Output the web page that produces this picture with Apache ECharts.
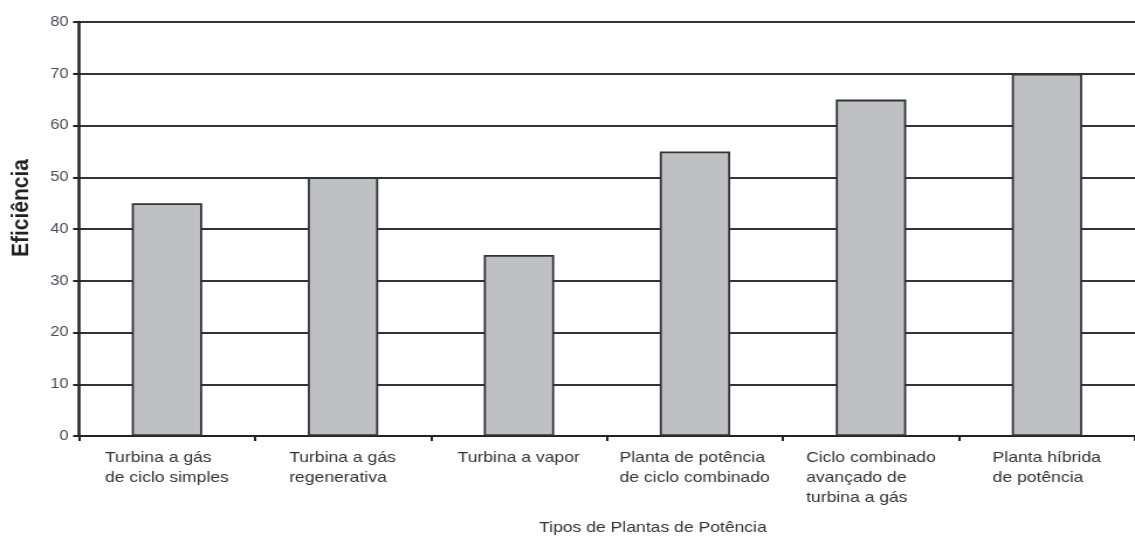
<!DOCTYPE html>
<html>
<head>
<meta charset="utf-8">
<script src="https://cdn.jsdelivr.net/npm/echarts@6/dist/echarts.min.js"></script>
<style>
  html, body { margin: 0; padding: 0; background: #fff; overflow: hidden; }
  /* The chart is drawn narrower and widened horizontally, giving the wide lettering */
  #chart { width: 970px; height: 540px; transform: scaleX(1.1701); transform-origin: 0 0; }
</style>
</head>
<body>
<div id="chart"></div>
<script>
// Plant types and their efficiency (%)
const categories = [
  'Turbina a gás\nde ciclo simples',
  'Turbina a gás\nregenerativa',
  'Turbina a vapor',
  'Planta de potência\nde ciclo combinado',
  'Ciclo combinado\navançado de\nturbina a gás',
  'Planta híbrida\nde potência'
];
const efficiency = [45, 50, 35, 55, 65, 70];
const yTicks = [0, 10, 20, 30, 40, 50, 60, 70, 80];

const FONT = '"Liberation Sans", Arial, sans-serif';
const LABEL_SIZE = 15;

// Measure each label block so its lines can be left-aligned within a centred box
const ctx = document.createElement('canvas').getContext('2d');
ctx.font = LABEL_SIZE + 'px ' + FONT;
const rich = {};
categories.forEach(function (c, i) {
  const w = Math.max.apply(null, c.split('\n').map(function (s) { return ctx.measureText(s).width; }));
  rich['c' + i] = { width: Math.ceil(w), align: 'left', fontSize: LABEL_SIZE, fontFamily: FONT, color: '#333', lineHeight: 20 };
});

const chart = echarts.init(document.getElementById('chart'), null, { renderer: 'canvas' });
chart.setOption({
  animation: false,
  backgroundColor: '#ffffff',
  grid: { left: 67.5, top: 22, width: 905, bottom: 104, containLabel: false },
  xAxis: {
    type: 'category',
    data: categories,
    axisLine: { lineStyle: { color: '#222', width: 2 } },
    axisTick: { show: true, alignWithLabel: false, length: 5, lineStyle: { color: '#222', width: 2 } },
    axisLabel: {
      interval: 0,
      margin: 12,
      formatter: function (val, idx) {
        return val.split('\n').map(function (s) { return '{c' + idx + '|' + s + '}'; }).join('\n');
      },
      rich: rich
    }
  },
  yAxis: {
    type: 'value',
    min: yTicks[0],
    max: yTicks[yTicks.length - 1],
    interval: 10,
    axisLine: { show: true, lineStyle: { color: '#222', width: 2.5 } },
    axisTick: { show: true, length: 5, lineStyle: { color: '#222', width: 2 } },
    axisLabel: { color: '#4c4c58', fontSize: 14, fontFamily: FONT, margin: 9 },
    splitLine: { show: true, lineStyle: { color: '#333', width: 2 } }
  },
  series: [{
    type: 'bar',
    data: efficiency,
    barWidth: '40%',
    itemStyle: { color: '#bfc0c4', borderColor: '#333', borderWidth: 1.8 }
  }],
  graphic: [
    {
      type: 'text',
      x: 18, y: 208,
      rotation: Math.PI / 2,
      style: {
        text: 'Eficiência',
        font: 'bold 21px ' + FONT,
        fill: '#222',
        textAlign: 'center',
        textVerticalAlign: 'middle'
      }
    },
    {
      type: 'text',
      x: 558, y: 528,
      style: {
        text: 'Tipos de Plantas de Potência',
        font: '15px ' + FONT,
        fill: '#333',
        textAlign: 'center',
        textVerticalAlign: 'middle'
      }
    }
  ]
});
</script>
</body>
</html>
